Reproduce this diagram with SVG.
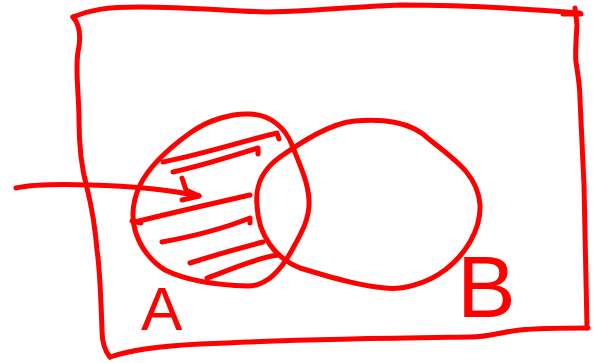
<svg xmlns="http://www.w3.org/2000/svg" width="594" height="363" viewBox="0 0 594 363">
<style>
.s{fill:none;stroke:#ff0000;stroke-width:5;stroke-linecap:round;stroke-linejoin:round}
.t{fill:#ff0000;font-family:"Liberation Sans",Arial,sans-serif}
</style>
<rect width="594" height="363" fill="#ffffff"/>
<g id="universe">
<path class="s" d="M73,17 C90,10 105,7 140,7 C190,7 230,11 267,12 C320,11 360,6 400,5 C470,5 530,9 580,13"/>
<path class="s" d="M563,14 L581,14 M575,8 L577,25 C576,40 575,55 576,62 C578,75 580,85 580,100 L584,185 C585,230 586,280 587,328"/>
<path class="s" d="M588,328 C560,328 540,328 520,330 C500,332 490,337 470,337 C400,338 300,339 200,344 C160,346 130,350 110,357"/>
<path class="s" d="M110,357 C104,350 102,340 102,330 C101,300 100,270 97,250 C95,225 90,200 87,188 C82,170 79,150 79,120 C79,95 75,70 78,52 C81,38 80,25 73,17"/>
</g>
<g id="setA">
<path class="s" d="M250,114 C232,113 208,120 190,133 C172,146 150,165 140,185 C133,200 131,215 135,230 C140,248 152,262 165,270 C185,280 215,285 248,286 C265,286 280,272 292,250 C302,232 310,218 309,200 C308,182 300,165 292,145 C285,127 270,115 250,114 Z"/>
<path class="s" d="M163,162 C200,155 240,142 277,133 L279,139"/>
<path class="s" d="M173,172 C205,165 235,155 258,148 L258,154"/>
<path class="s" d="M132,221 L141,223 M135,222 C175,212 215,203 250,195"/>
<path class="s" d="M162,242 C195,236 225,228 250,218 L250,223"/>
<path class="s" d="M190,263 C215,255 240,248 263,242"/>
<path class="s" d="M207,278 C230,270 255,258 278,255"/>
</g>
<g id="setB">
<path class="s" d="M257,205 C255,185 262,170 280,157 C300,143 330,123 355,121 C380,119 410,120 430,140 C455,160 478,175 480,205 C481,230 465,255 445,270 C425,285 400,290 385,288 C360,286 330,277 300,268 C275,258 258,235 257,205 Z"/>
</g>
<g id="labels">
<text class="t" x="141" y="330" font-size="62">A</text>
<text class="t" x="457" y="317" font-size="88">B</text>
</g>
<g id="connectors">
<path class="s" d="M16,188 C30,185 60,184 90,185 C130,186 165,189 199,196"/>
<path class="s" d="M182,178 L186,190 L199,196 L182,200"/>
</g>
</svg>
